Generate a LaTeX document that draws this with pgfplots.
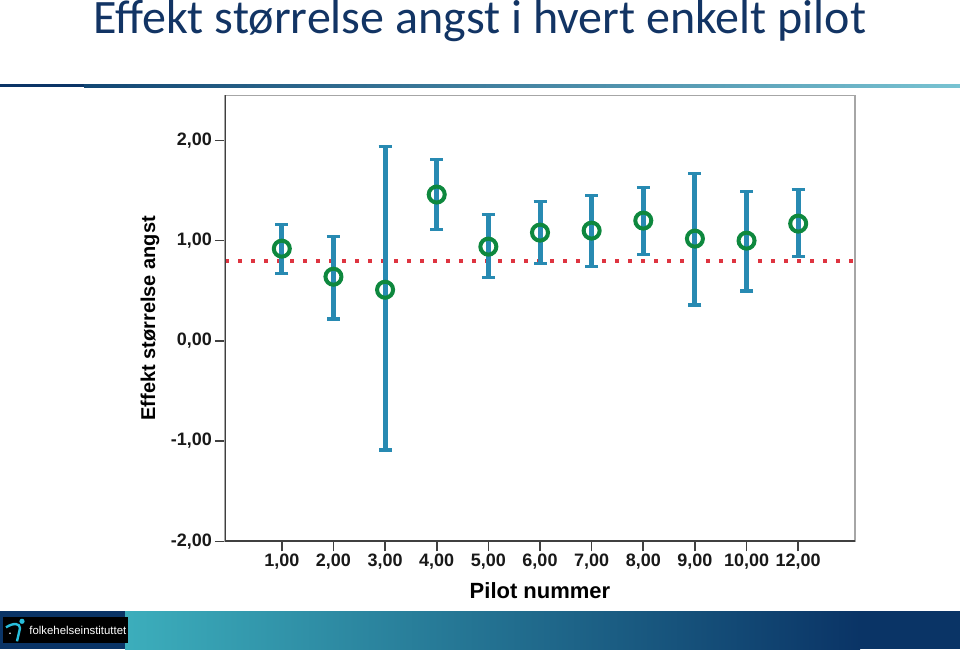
\documentclass[border=0pt]{standalone}
\usepackage{pgfplots}
\pgfplotsset{compat=1.18}
\usepackage{fontspec}
\setmainfont{Liberation Sans}
\newfontfamily\titlefont{Carlito}
\definecolor{titleblue}{RGB}{18,52,100}
\definecolor{barblue}{RGB}{40,138,178}
\definecolor{markgreen}{RGB}{14,136,62}
\definecolor{refred}{RGB}{222,52,64}
\definecolor{navy}{RGB}{10,52,102}
\definecolor{tealc}{RGB}{60,174,188}
\definecolor{linelight}{RGB}{120,195,210}
\definecolor{iconcyan}{RGB}{40,190,220}
\pgfplotstableread{
x y ep em
0 0.92 0.24 0.25
1 0.64 0.40 0.42
2 0.51 1.43 1.60
3 1.46 0.35 0.35
4 0.94 0.32 0.31
5 1.08 0.31 0.31
6 1.10 0.35 0.36
7 1.20 0.33 0.34
8 1.02 0.65 0.66
9 1.00 0.49 0.50
10 1.17 0.34 0.33
}\pilots
\begin{document}
\begin{tikzpicture}
\begin{scope}[x=0.5pt,y=0.5pt]
\fill[white] (0,0) rectangle (960,649);
\node[anchor=base, font=\titlefont\fontsize{24}{28}\selectfont, text=titleblue, inner sep=0] at (480,616) {Effekt størrelse angst i hvert enkelt pilot};
\fill[navy] (0,562) rectangle (84,565);
\shade[left color=navy!85!tealc, right color=linelight] (84,562) rectangle (960,565);
\fill[navy] (0,0) rectangle (960,38.5);
\shade[left color=tealc, right color=navy] (125,0) rectangle (860,37.5);
\fill[black] (3,6) rectangle (128,32);
\node[anchor=west, text=white, font=\fontsize{5.7}{6}\selectfont, inner sep=0] at (29,19) {folkehelseinstituttet};
\fill[iconcyan] (22,28) circle (2.6);
\draw[iconcyan, line width=1.2pt] (6,22) .. controls (14,27) and (20,26) .. (20,21) -- (17,8);
\fill[white] (10,16) circle (0.9);
\end{scope}
\begin{axis}[
  at={(112.5pt,54pt)}, anchor=south west, scale only axis,
  width=315pt, height=223pt,
  xmin=-1.1, xmax=11.1, ymin=-2, ymax=2.45,
  axis line style={draw=black!35, line width=0.8pt},
  xtick={0,...,10},
  xticklabels={{1,00},{2,00},{3,00},{4,00},{5,00},{6,00},{7,00},{8,00},{9,00},{10,00},{12,00}},
  ytick={-2,-1,0,1,2},
  yticklabel style={xshift=2pt, /pgf/number format/.cd, fixed, fixed zerofill, precision=2, use comma, assume math mode=true},
  xticklabel style={yshift=2pt},
  tick align=outside, major tick length=5pt,
  tick style={black!75, line width=0.8pt},
  xtick pos=left, ytick pos=left,
  ticklabel style={font=\bfseries\fontsize{9}{10}\selectfont, text=black!90},
  xlabel={Pilot nummer}, ylabel={Effekt størrelse angst},
  xlabel style={font=\bfseries\fontsize{11}{12}\selectfont, at={(axis description cs:0.5,-0.11)}, anchor=center},
  ylabel style={font=\bfseries\fontsize{10}{12}\selectfont, at={(axis description cs:-0.119,0.5)}, anchor=center},
]
\addplot[refred, line width=2pt, dash pattern=on 2pt off 4.5pt] coordinates {(-1.1,0.8) (11.1,0.8)};
\addplot[draw=none, mark=none, error bars/.cd, y dir=both, y explicit,
  error bar style={barblue, line width=2.5pt},
  error mark options={barblue, line width=1.75pt, mark size=3.25pt, rotate=90}]
  table[x=x, y=y, y error plus=ep, y error minus=em] {\pilots};
\addplot[only marks, mark=o, mark size=4pt, mark options={markgreen, line width=2pt}]
  table[x=x, y=y] {\pilots};
\draw[black!75, line width=0.9pt] (rel axis cs:0,1) -- (rel axis cs:0,0) -- (rel axis cs:1,0);
\end{axis}
\end{tikzpicture}
\end{document}
